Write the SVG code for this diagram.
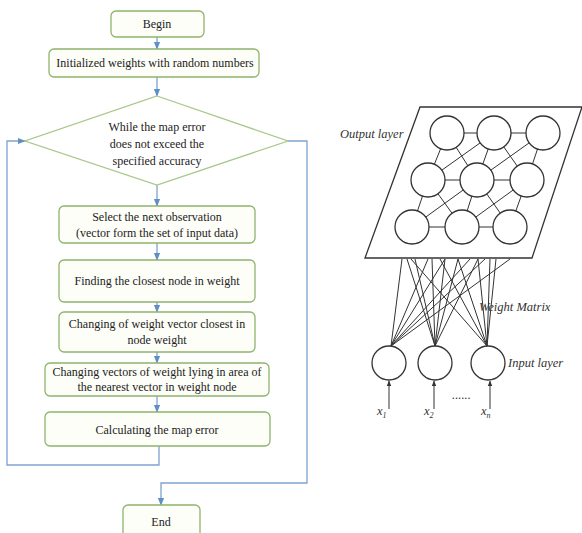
<svg xmlns="http://www.w3.org/2000/svg" width="582" height="533" viewBox="0 0 582 533">
<defs>
<style>
.box{fill:#fdfef8;stroke:#8fb46c;stroke-width:1.3}
.dia{fill:#ffffff;stroke:#a8c88a;stroke-width:1.3}
.t{font-family:"Liberation Serif","Times New Roman",serif;font-size:12px;fill:#222;text-anchor:middle}
.fl{fill:none;stroke:#7fa3cf;stroke-width:1.3}
.n{fill:#fff;stroke:#333;stroke-width:1.3}
.w{stroke:#333;stroke-width:1;fill:none}
.lbl{font-family:"Liberation Serif","Times New Roman",serif;font-style:italic;font-size:12.5px;fill:#333}
</style>
<marker id="ah" viewBox="0 0 10 10" refX="9" refY="5" markerWidth="6" markerHeight="6" orient="auto">
<path d="M0,1 L10,5 L0,9 z" fill="#5f8fc4"/>
</marker>
<marker id="ak" viewBox="0 0 10 10" refX="9" refY="5" markerWidth="6" markerHeight="6" orient="auto">
<path d="M0,1 L10,5 L0,9 z" fill="#333"/>
</marker>
</defs>
<rect width="582" height="533" fill="#ffffff"/>

<g id="connectors">
<line class="fl" x1="157" y1="37" x2="157" y2="49" marker-end="url(#ah)"/>
<line class="fl" x1="157" y1="77" x2="157" y2="96" marker-end="url(#ah)"/>
<line class="fl" x1="157" y1="185" x2="157" y2="206" marker-end="url(#ah)"/>
<line class="fl" x1="157" y1="243" x2="157" y2="260" marker-end="url(#ah)"/>
<line class="fl" x1="157" y1="302" x2="157" y2="312" marker-end="url(#ah)"/>
<line class="fl" x1="157" y1="352" x2="157" y2="363" marker-end="url(#ah)"/>
<line class="fl" x1="157" y1="396" x2="157" y2="412" marker-end="url(#ah)"/>
<polyline class="fl" points="159,446 159,465 7,465 7,141 25,141" marker-end="url(#ah)"/>
<polyline class="fl" points="288,141 307,141 307,483 161,483 161,505" marker-end="url(#ah)"/>
</g>

<g id="begin"><rect class="box" x="111" y="11" width="93" height="26" rx="5"/><text class="t" x="157" y="28">Begin</text></g>
<g id="init"><rect class="box" x="49" y="49" width="210" height="28" rx="5"/><text class="t" x="155" y="67">Initialized weights with random numbers</text></g>
<g id="loop"><polygon class="dia" points="157,96 288,141 157,185 25,141"/>
<text class="t" x="157" y="131">While the map error</text>
<text class="t" x="157" y="148">does not exceed the</text>
<text class="t" x="157" y="165">specified accuracy</text></g>
<g id="select"><rect class="box" x="59" y="206" width="196" height="37" rx="5"/><text class="t" x="157" y="221">Select the next observation</text><text class="t" x="157" y="237">(vector form the set of input data)</text></g>
<g id="find"><rect class="box" x="59" y="260" width="196" height="42" rx="5"/><text class="t" x="157" y="285">Finding the closest node in weight</text></g>
<g id="change1"><rect class="box" x="59" y="312" width="196" height="40" rx="5"/><text class="t" x="157" y="328">Changing of weight vector closest in</text><text class="t" x="157" y="344">node weight</text></g>
<g id="change2"><rect class="box" x="45" y="363" width="224" height="33" rx="5"/><text class="t" x="157" y="376">Changing vectors of weight lying in area of</text><text class="t" x="157" y="391">the nearest vector  in weight node</text></g>
<g id="calc"><rect class="box" x="45" y="412" width="225" height="34" rx="5"/><text class="t" x="157" y="434">Calculating the map error</text></g>
<g id="end"><rect class="box" x="123" y="505" width="77" height="34" rx="5"/><text class="t" x="161" y="526">End</text></g>

<g id="network">
<polygon fill="#fff" stroke="#333" stroke-width="1.3" points="420,107 582,107 532,258 365,258"/>
<g class="w">
<line x1="447" y1="133" x2="494" y2="133"/><line x1="494" y1="133" x2="543" y2="133"/>
<line x1="428" y1="180" x2="477" y2="180"/><line x1="477" y1="180" x2="527" y2="180"/>
<line x1="412" y1="227" x2="462" y2="227"/><line x1="462" y1="227" x2="510" y2="227"/>
<line x1="447" y1="133" x2="428" y2="180"/><line x1="494" y1="133" x2="477" y2="180"/><line x1="543" y1="133" x2="527" y2="180"/>
<line x1="428" y1="180" x2="412" y2="227"/><line x1="477" y1="180" x2="462" y2="227"/><line x1="527" y1="180" x2="510" y2="227"/>
<line x1="447" y1="133" x2="477" y2="180"/><line x1="494" y1="133" x2="428" y2="180"/>
<line x1="494" y1="133" x2="527" y2="180"/><line x1="543" y1="133" x2="477" y2="180"/>
<line x1="428" y1="180" x2="462" y2="227"/><line x1="477" y1="180" x2="412" y2="227"/>
<line x1="477" y1="180" x2="510" y2="227"/><line x1="527" y1="180" x2="462" y2="227"/>
</g>
<circle class="n" cx="447" cy="133" r="17"/><circle class="n" cx="494" cy="133" r="17"/><circle class="n" cx="543" cy="133" r="17"/>
<circle class="n" cx="428" cy="180" r="17"/><circle class="n" cx="477" cy="180" r="17"/><circle class="n" cx="527" cy="180" r="17"/>
<circle class="n" cx="412" cy="227" r="17"/><circle class="n" cx="462" cy="227" r="17"/><circle class="n" cx="510" cy="227" r="17"/>
<g class="w">
<line x1="391" y1="346" x2="402" y2="259"/><line x1="391" y1="346" x2="428" y2="259"/><line x1="391" y1="346" x2="445" y2="259"/><line x1="391" y1="346" x2="470" y2="259"/><line x1="391" y1="346" x2="485" y2="259"/><line x1="391" y1="346" x2="510" y2="259"/>
<line x1="435" y1="346" x2="407" y2="259"/><line x1="435" y1="346" x2="415" y2="259"/><line x1="435" y1="346" x2="432" y2="259"/><line x1="435" y1="346" x2="445" y2="259"/><line x1="435" y1="346" x2="458" y2="259"/><line x1="435" y1="346" x2="478" y2="259"/>
<line x1="487" y1="346" x2="411" y2="259"/><line x1="487" y1="346" x2="440" y2="259"/><line x1="487" y1="346" x2="458" y2="259"/><line x1="487" y1="346" x2="478" y2="259"/><line x1="487" y1="346" x2="490" y2="259"/><line x1="487" y1="346" x2="496" y2="259"/>
</g>
<circle class="n" cx="389" cy="363" r="17"/><circle class="n" cx="435" cy="363" r="17"/><circle class="n" cx="488" cy="363" r="17"/>
<line class="w" x1="389" y1="409" x2="389" y2="381" marker-end="url(#ak)" stroke-width="1.5"/>
<line class="w" x1="434" y1="409" x2="434" y2="381" marker-end="url(#ak)" stroke-width="1.5"/>
<line class="w" x1="490" y1="409" x2="490" y2="381" marker-end="url(#ak)" stroke-width="1.5"/>
<text class="lbl" x="340" y="138">Output layer</text>
<text class="lbl" x="479" y="311">Weight Matrix</text>
<text class="lbl" x="508" y="367">Input layer</text>
<text class="lbl" x="377" y="415">x<tspan font-size="8" dy="3">1</tspan></text>
<text class="lbl" x="424" y="415">x<tspan font-size="8" dy="3">2</tspan></text>
<text class="lbl" x="481" y="415">x<tspan font-size="8" dy="3">n</tspan></text>
<text class="lbl" x="452" y="399" font-size="9" fill="#777">......</text>
</g>
</svg>
